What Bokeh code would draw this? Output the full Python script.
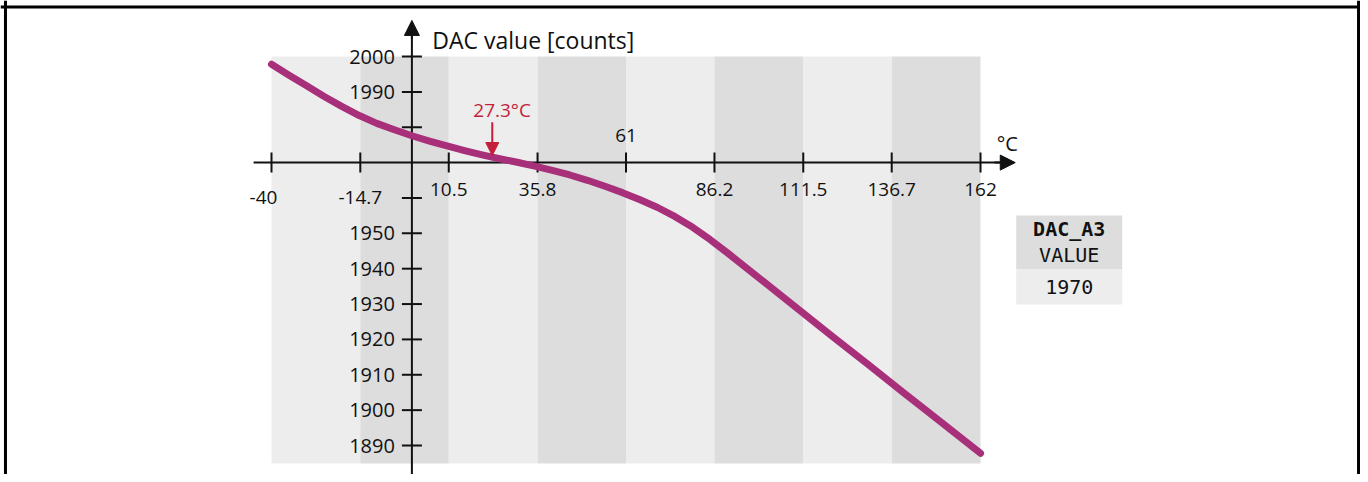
import math
from bokeh.plotting import figure
from bokeh.models import Range1d, Arrow, NormalHead, Span
from bokeh.core.properties import value
from bokeh.embed import file_html
from bokeh.resources import INLINE

# ---------------- data ----------------
temps = [-40, -35, -30, -25, -20, -15, -10, -5, 0, 5, 10, 15, 20, 25, 30, 35, 40, 45, 50, 55,
         60, 65, 70, 75, 80, 85, 90, 100, 110, 120, 130, 140, 150, 162]
dac = [1997.8, 1994.7, 1991.7, 1988.7, 1985.9, 1983.3, 1981.1, 1979.3, 1977.6, 1976.1, 1974.7,
       1973.4, 1972.2, 1971.1, 1970.1, 1969.0, 1967.8, 1966.5, 1965.0, 1963.3,
       1961.5, 1959.5, 1957.3, 1954.7, 1951.7, 1948.2, 1944.4, 1936.5, 1928.6, 1920.7,
       1912.9, 1905.0, 1897.2, 1887.8]

x_ticks = [-40, -14.7, 10.5, 35.8, 61, 86.2, 111.5, 136.7, 162]
x_tick_labels = ["-40", "-14.7", "10.5", "35.8", "61", "86.2", "111.5", "136.7", "162"]
y_ticks = [2000, 1990, 1980, 1960, 1950, 1940, 1930, 1920, 1910, 1900, 1890]
y_tick_labels = ["2000", "1990", "", "", "1950", "1940", "1930", "1920", "1910", "1900", "1890"]
y_title = "DAC value [counts]"
x_unit = "°C"
cross_value = 1970
marker_temp = 27.3
marker_label = "27.3°C"
table_header = ["DAC_A3", "VALUE"]
table_value = "1970"

# ---------------- figure ----------------
FONT = "Open Sans"
MONO = "DejaVu Sans Mono"
INK = "#111111"
RED = "#c41e3a"

p = figure(width=1360, height=474, output_backend="svg", toolbar_location=None,
           x_axis_type=None, y_axis_type=None,
           x_range=Range1d(-117.21, 270.26), y_range=Range1d(1881.80, 2015.84),
           min_border=0, background_fill_color="white", border_fill_color="white")
p.outline_line_color = None
p.grid.visible = False

# alternating background bands
band_left = x_ticks[:-1]
band_right = x_ticks[1:]
band_colors = ["#ededed" if i % 2 == 0 else "#dddddd" for i in range(len(band_left))]
p.quad(left=band_left, right=band_right, bottom=1884.9, top=2000,
       fill_color=band_colors, line_color=None)

# axis lines crossing at (0, 1970)
p.segment(x0=[-45.1], y0=[cross_value], x1=[168.0], y1=[cross_value], line_color=INK, line_width=2)
p.segment(x0=[0], y0=[1881.0], x1=[0], y1=[2006.0], line_color=INK, line_width=2)

# tick marks (crossing the axis lines)
p.scatter(x=x_ticks, y=[cross_value] * len(x_ticks), marker="dash", angle=math.pi / 2,
          size=20, line_color=INK, line_width=2)
p.scatter(x=[0] * len(y_ticks), y=y_ticks, marker="dash",
          size=20, line_color=INK, line_width=2)

# arrow heads on the axes
p.add_layout(Arrow(end=NormalHead(size=15, fill_color=INK, line_color=INK),
                   x_start=166, y_start=cross_value, x_end=171.9, y_end=cross_value,
                   line_color=INK, line_width=2))
p.add_layout(Arrow(end=NormalHead(size=15, fill_color=INK, line_color=INK),
                   x_start=0, y_start=2005, x_end=0, y_end=2010.2,
                   line_color=INK, line_width=2))

# curve
p.line(temps, dac, line_color="#a8307a", line_width=7, line_cap="round", line_join="round")

# x tick labels
x_off = [35, 35, 27, 27, -27, 27, 27, 27, 27]
x_shift = [-8, 0, 0, 0, 0, 0, 0, 0, 0]
p.text(x=x_ticks, y=[cross_value] * len(x_ticks), text=x_tick_labels,
       x_offset=x_shift, y_offset=x_off,
       text_font=value(FONT), text_font_size="19px", text_color=INK,
       text_align="center", text_baseline="middle")

# y tick labels (only the labelled ones)
yl = [(t, s) for t, s in zip(y_ticks, y_tick_labels) if s]
p.text(x=[0] * len(yl), y=[t for t, _ in yl], text=[s for _, s in yl], x_offset=-17,
       text_font=value(FONT), text_font_size="20px", text_color=INK,
       text_align="right", text_baseline="middle")

# axis titles
p.text(x=[5.8], y=[2004.8], text=[y_title],
       text_font=value(FONT), text_font_size="23px", text_color=INK,
       text_align="left", text_baseline="middle")
p.text(x=[171.9], y=[cross_value], text=[x_unit], y_offset=-19, x_offset=-8,
       text_font=value(FONT), text_font_size="20px", text_color=INK,
       text_align="center", text_baseline="middle")

# 27.3 °C marker
p.add_layout(Arrow(end=NormalHead(size=13, fill_color=RED, line_color=RED),
                   x_start=marker_temp - 4.4, y_start=1981.4,
                   x_end=marker_temp - 4.4, y_end=1972.0,
                   line_color=RED, line_width=2))
p.text(x=[marker_temp - 1.6], y=[1985.0], text=[marker_label],
       text_font=value(FONT), text_font_size="19px", text_color=RED,
       text_align="center", text_baseline="middle")

# value table
p.quad(left=[172.17], right=[202.37], bottom=[1939.77], top=[1955.04],
       fill_color="#dddddd", line_color=None)
p.quad(left=[172.17], right=[202.37], bottom=[1929.87], top=[1939.77],
       fill_color="#ededed", line_color=None)
p.text(x=[187.27, 187.27], y=[1955.04, 1955.04], text=table_header, y_offset=[13, 39],
       text_font=value(MONO), text_font_size="20px", text_color=INK,
       text_font_style=["bold", "normal"],
       text_align="center", text_baseline="middle")
p.text(x=[187.27], y=[1939.77], text=[table_value], y_offset=17,
       text_font=value(MONO), text_font_size="20px", text_color=INK,
       text_align="center", text_baseline="middle")

# outer frame (left, top, right edges)
p.add_layout(Span(location=-115.79, dimension="height", line_color="black", line_width=3))
p.add_layout(Span(location=2014.0, dimension="width", line_color="black", line_width=3))
p.add_layout(Span(location=269.7, dimension="height", line_color="black", line_width=3))

open("out.html", "w").write(file_html(p, INLINE))
